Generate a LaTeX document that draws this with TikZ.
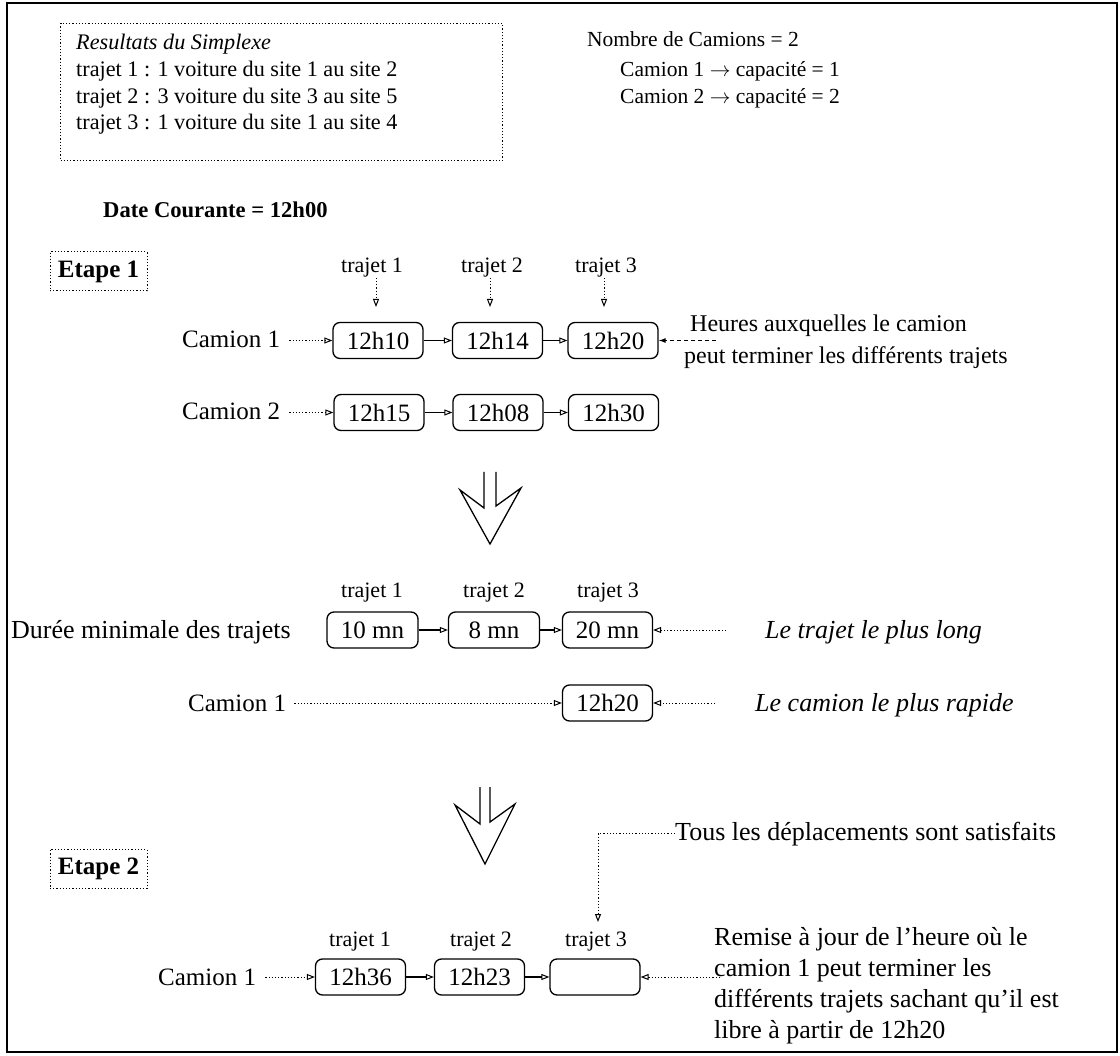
\documentclass[tikz,border=0pt]{standalone}
\usepackage{fontspec}
\setmainfont{Liberation Serif}
\usetikzlibrary{arrows.meta}
\newcommand{\szMain}{\fontsize{26}{30}\selectfont}
\newcommand{\szRow}{\fontsize{25}{29}\selectfont}
\newcommand{\szTop}{\fontsize{22.2}{27}\selectfont}
\newcommand{\szRight}{\fontsize{21.5}{26}\selectfont}
\newcommand{\szNote}{\fontsize{24}{28}\selectfont}
\newcommand{\szLbl}{\fontsize{22}{26}\selectfont}
\newcommand{\szBox}{\fontsize{25}{29}\selectfont}
\newcommand{\szEt}{\fontsize{25}{29}\selectfont}
\begin{document}
\begin{tikzpicture}[x=1pt,y=-1pt,
  txt/.style={inner sep=0pt, anchor=base west},
  lbl/.style={inner sep=0pt, font=\szLbl},
  tbox/.style={draw, line width=1.3pt, rounded corners=7pt, minimum width=90pt, minimum height=36pt, inner sep=0pt, font=\szBox},
  dbox/.style={draw, line width=1pt, dash pattern=on 1.2pt off 2pt},
  dotl/.style={line width=1pt, dash pattern=on 1.2pt off 2pt},
  dashl/.style={line width=1pt, dash pattern=on 4pt off 3pt},
  otip/.style={-{Triangle[open,length=8pt,width=6pt,line width=1pt]}},
  ftip/.style={-{Latex[length=7pt,width=5pt]}},
  solidl/.style={line width=1.2pt},
  bigarrow/.style={line width=1.3pt, line join=miter}
]
\useasboundingbox (0,0) rectangle (1120,1056);
% frame
\draw[line width=1.5pt] (7,3) rectangle (1117,1052);

% top results box
\node[dbox, anchor=north west, minimum width=442pt, minimum height=137pt, inner sep=0pt] (res) at (60,23) {};
\node[txt,font=\szTop\itshape] (r1) at (76,50) {Resultats du Simplexe};
\node[txt,font=\szTop] (r2) at (76,77) {trajet 1 : 1 voiture du site 1 au site 2};
\node[txt,font=\szTop] (r3) at (76,104) {trajet 2 : 3 voiture du site 3 au site 5};
\node[txt,font=\szTop] (r4) at (76,130) {trajet 3 : 1 voiture du site 1 au site 4};

% top right
\node[txt,font=\szRight] (nc) at (587,47) {Nombre de Camions = 2};
\node[txt,font=\szRight] (ca1) at (620,77) {Camion 1 $\rightarrow$ capacité = 1};
\node[txt,font=\szRight] (ca2) at (620,104) {Camion 2 $\rightarrow$ capacité = 2};

% date
\node[txt,font=\fontsize{22.6}{27}\selectfont\bfseries] (dc) at (103,218) {Date Courante = 12h00};

% Etape 1
\node[dbox, font=\szEt\bfseries, minimum width=97pt, minimum height=39pt, inner sep=0pt] (e1) at (98.5,271.5) {Etape 1};

\node[lbl] (t11) at (372,268) {trajet 1};
\node[lbl] (t12) at (492,268) {trajet 2};
\node[lbl] (t13) at (606,268) {trajet 3};

\node[tbox] (b11) at (378,340.5) {12h10};
\node[tbox] (b12) at (497.5,340.5) {12h14};
\node[tbox] (b13) at (613,340.5) {12h20};
\node[tbox] (b21) at (379,412.5) {12h15};
\node[tbox] (b22) at (498,412.5) {12h08};
\node[tbox] (b23) at (613.5,412.5) {12h30};

\coordinate (a11) at (376,307);
\coordinate (a12) at (490,307);
\coordinate (a13) at (604,307);
\draw[dotl,otip] (t11.south -| a11) -- (a11);
\draw[dotl,otip] (t12.south -| a12) -- (a12);
\draw[dotl,otip] (t13.south -| a13) -- (a13);

\node[txt,font=\szRow] (k1) at (182,348) {Camion 1};
\node[txt,font=\szRow] (k2) at (182,420) {Camion 2};
\draw[dotl,otip,shorten <=9pt] (k1.east |- b11.west) -- (b11.west);
\draw[dotl,otip,shorten <=9pt] (k2.east |- b21.west) -- (b21.west);
\draw[solidl,otip] (b11) -- (b12);
\draw[solidl,otip] (b12) -- (b13);
\draw[solidl,otip] (b21) -- (b22);
\draw[solidl,otip] (b22) -- (b23);

\node[txt,font=\szNote] (h1) at (690,332) {Heures auxquelles le camion};
\node[txt,font=\szNote] (h2) at (684,364) {peut terminer les différents trajets};
\coordinate (hq) at (716,340.5);
\draw[dashl,ftip] (hq) -- (b13.east);

% big arrow 1
\draw[bigarrow] (484,472) -- (484,508) -- (460,490) -- (490,544) -- (521,488) -- (496,506) -- (496,472);

% middle section
\node[lbl] (m1) at (372,593) {trajet 1};
\node[lbl] (m2) at (494,593) {trajet 2};
\node[lbl] (m3) at (608,593) {trajet 3};
\node[tbox, minimum width=91pt] (d1) at (372.5,630) {10 mn};
\node[tbox, minimum width=91pt] (d2) at (494,630) {8 mn};
\node[tbox] (d3) at (607.5,630) {20 mn};
\node[txt,font=\szMain] (du) at (11,638) {Durée minimale des trajets};
\draw[solidl,otip] (d1) -- (d2);
\draw[solidl,otip] (d2) -- (d3);
\node[txt,font=\szMain\itshape] (lt) at (765,638) {Le trajet le plus long};
\coordinate (lq) at (726,630);
\draw[dotl,otip] (lq) -- (d3.east);

\node[txt,font=\szRow] (k3) at (188,711) {Camion 1};
\node[tbox] (d4) at (607.5,703) {12h20};
\draw[dotl,otip,shorten <=8pt] (k3.east |- d4.west) -- (d4.west);
\node[txt,font=\szMain\itshape] (lc) at (755,711) {Le camion le plus rapide};
\coordinate (lr) at (715,703);
\draw[dotl,otip] (lr) -- (d4.east);

% big arrow 2
\draw[bigarrow] (480,787) -- (480,824) -- (455,805) -- (485,864) -- (515,804) -- (490,822) -- (490,787);

% Etape 2
\node[dbox, font=\szEt\bfseries, minimum width=97pt, minimum height=39pt, inner sep=0pt] (e2) at (98.5,869) {Etape 2};

\node[txt,font=\szMain] (tous) at (675,840) {Tous les déplacements sont satisfaits};
\coordinate (ta) at (598,922);
\draw[dotl,otip] (tous.west) -| (ta);

\node[lbl] (p1) at (360,942) {trajet 1};
\node[lbl] (p2) at (481,942) {trajet 2};
\node[lbl] (p3) at (596,942) {trajet 3};
\node[tbox] (q1) at (360.5,977) {12h36};
\node[tbox] (q2) at (479.5,977) {12h23};
\node[tbox] (q3) at (595,977) {};
\node[txt,font=\szRow] (k4) at (158,985) {Camion 1};
\draw[dotl,otip,shorten <=9pt] (k4.east |- q1.west) -- (q1.west);
\draw[solidl,otip] (q1) -- (q2);
\draw[solidl,otip] (q2) -- (q3);

\node[txt,font=\szMain] (rm1) at (714,945) {Remise à jour de l’heure où le};
\node[txt,font=\szMain] (rm2) at (714,976) {camion 1 peut terminer les};
\node[txt,font=\szMain] (rm3) at (714,1007) {différents trajets sachant qu’il est};
\node[txt,font=\szMain] (rm4) at (714,1038) {libre à partir de 12h20};
\coordinate (rq) at (720,977);
\draw[dotl,otip] (rq) -- (q3.east);
\end{tikzpicture}
\end{document}
